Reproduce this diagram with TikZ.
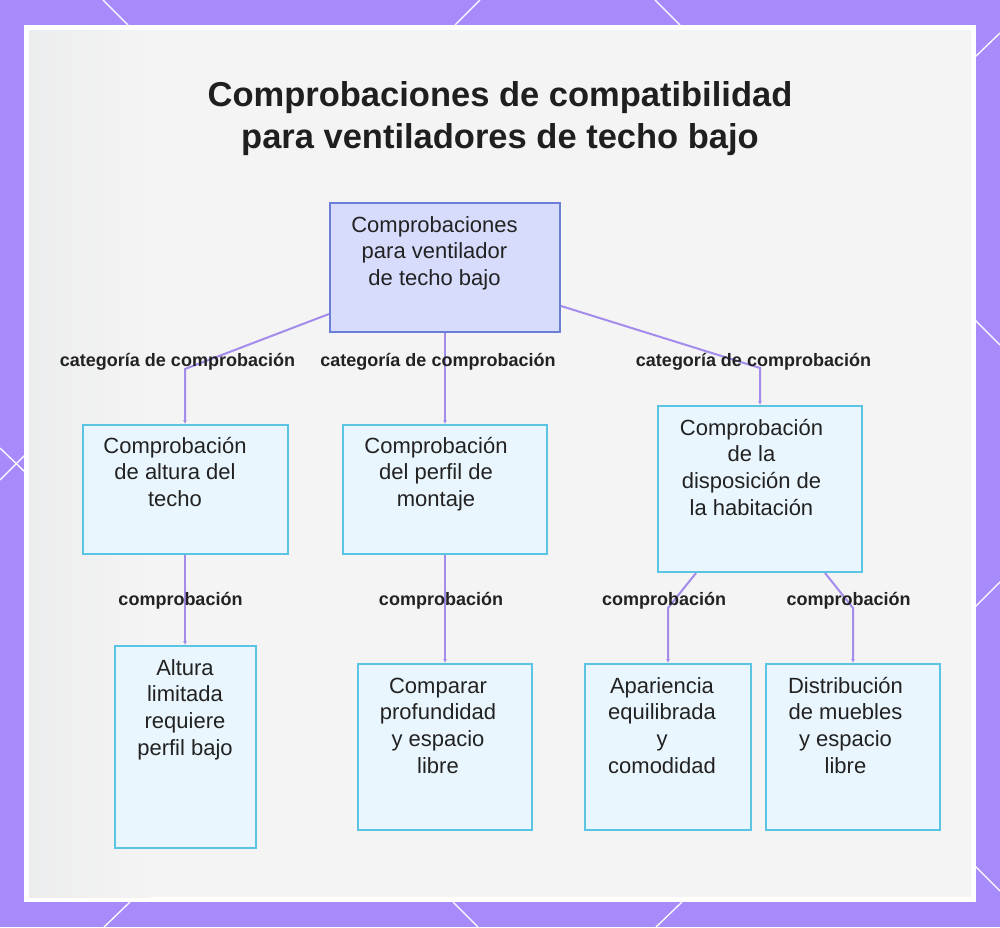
\documentclass[tikz,border=0pt]{standalone}
\usepackage{fontspec}
\setmainfont{Liberation Sans}
\usetikzlibrary{arrows.meta,calc}
\definecolor{bgpurple}{HTML}{A78BFA}
\definecolor{panelgray}{HTML}{F4F4F4}
\definecolor{panelleft}{HTML}{ECEDEE}
\definecolor{edgecol}{HTML}{A38CEB}
\definecolor{leafborder}{HTML}{5BC4E2}
\definecolor{leaffill}{HTML}{EAF6FD}
\definecolor{rootborder}{HTML}{6B7FD7}
\definecolor{rootfill}{HTML}{D8DCFC}
\definecolor{txt}{HTML}{222222}
\tikzset{
  box/.style={draw=leafborder, fill=leaffill, line width=2pt, inner sep=0pt},
  rootbox/.style={draw=rootborder, fill=rootfill, line width=2pt, inner sep=0pt},
  boxtext/.style={anchor=base, align=center, inner sep=0pt, text=txt, font=\fontsize{22}{26.7}\selectfont},
  lbl/.style={anchor=base, inner sep=0pt, text=txt, font=\fontsize{18}{20}\selectfont\bfseries},
  conn/.style={draw=edgecol, line width=2pt, -{Latex[length=4pt,width=4pt]}},
  deco/.style={draw=white, line width=1.3pt}
}
\begin{document}
\begin{tikzpicture}[x=1pt,y=-1pt]
\useasboundingbox (0,0) rectangle (1000,927);
% background
\fill[bgpurple] (0,0) rectangle (1000,927);
% decorative lines in border
\draw[deco] (103,0) -- (128,25);
\draw[deco] (480,0) -- (455,25);
\draw[deco] (655,0) -- (680,25);
\draw[deco] (975,57) -- (1000,33);
\draw[deco] (975,320) -- (1000,345);
\draw[deco] (975,607) -- (1000,582);
\draw[deco] (975,866) -- (1000,891);
\draw[deco] (130,902) -- (104,927);
\draw[deco] (453,902) -- (478,927);
\draw[deco] (682,902) -- (656,927);
\draw[deco] (0,448) -- (25,472);
\draw[deco] (0,480) -- (25,455);
% panel
\fill[white] (24,25) rectangle (976,902);
\fill[panelgray] (29,30) rectangle (971,897);
\shade[left color=panelleft, right color=panelgray] (29,30) rectangle (150,897);
% title (anchor base = baseline of last line)
\node[anchor=base, align=center, inner sep=0pt, text=black!88, font=\fontsize{34.5}{42.5}\selectfont\bfseries] (title) at (500,148.5)
  {Comprobaciones de compatibilidad\\para ventiladores de techo bajo};
% boxes
\node[rootbox, minimum width=230pt, minimum height=129pt] (root) at (445,267.5) {};
\node[box, minimum width=205pt, minimum height=129pt] (A) at (185,489.5) {};
\node[box, minimum width=204pt, minimum height=129pt] (B) at (445,489.5) {};
\node[box, minimum width=204pt, minimum height=166pt] (C) at (760,489) {};
\node[box, minimum width=141pt, minimum height=202pt] (D) at (185,747) {};
\node[box, minimum width=174pt, minimum height=166pt] (E) at (445,747) {};
\node[box, minimum width=166pt, minimum height=166pt] (F) at (668,747) {};
\node[box, minimum width=174pt, minimum height=166pt] (G) at (853,747) {};
% box texts (anchor base = baseline of last line)
\node[boxtext] (rootT) at (434.5,285.4) {Comprobaciones\\para ventilador\\de techo bajo};
\node[boxtext] (AT) at (175,506.4) {Comprobación\\de altura del\\techo};
\node[boxtext] (BT) at (436,506.4) {Comprobación\\del perfil de\\montaje};
\node[boxtext] (CT) at (751.5,515.1) {Comprobación\\de la\\disposición de\\la habitación};
\node[boxtext] (DT) at (185,755.1) {Altura\\limitada\\requiere\\perfil bajo};
\node[boxtext] (ET) at (438,773.1) {Comparar\\profundidad\\y espacio\\libre};
\node[boxtext] (FT) at (662,773.1) {Apariencia\\equilibrada\\y\\comodidad};
\node[boxtext] (GT) at (845.5,773.1) {Distribución\\de muebles\\y espacio\\libre};
% connectors
\draw[conn] (root.south west) ++(0,-19) -- (A.north |- 0,369) -- (A.north);
\draw[conn] (root.south) -- (B.north);
\draw[conn] (root.south east) ++(0,-27) -- (C.north |- 0,368) -- (C.north);
\draw[conn] (A.south) -- (D.north);
\draw[conn] (B.south) -- (E.north);
\draw[conn] (C.south west) ++(39,0) -- (F.north |- 0,608) -- (F.north);
\draw[conn] (C.south east) ++(-38,0) -- (G.north |- 0,608) -- (G.north);
% labels
\node[lbl] (l1) at (177.5,366) {categoría de comprobación};
\node[lbl] (l2) at (438,366) {categoría de comprobación};
\node[lbl] (l3) at (753.5,366) {categoría de comprobación};
\node[lbl] (l4) at (180.5,605) {comprobación};
\node[lbl] (l5) at (441,605) {comprobación};
\node[lbl] (l6) at (664,605) {comprobación};
\node[lbl] (l7) at (848.5,605) {comprobación};
\end{tikzpicture}
\end{document}
